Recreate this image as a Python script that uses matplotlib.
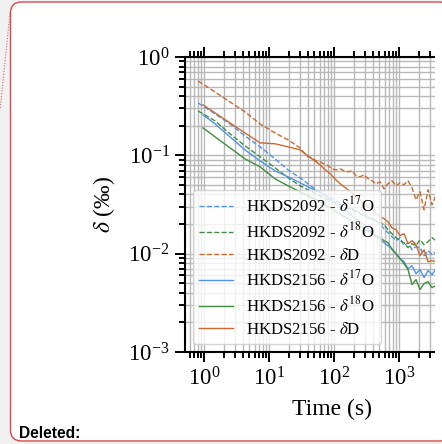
import matplotlib
matplotlib.use("Agg")
import matplotlib.pyplot as plt
from matplotlib.patches import FancyBboxPatch, Rectangle
from matplotlib.lines import Line2D
from matplotlib.transforms import IdentityTransform
from matplotlib.ticker import LogLocator, NullFormatter, FixedLocator

plt.rcParams['font.family'] = 'serif'
plt.rcParams['font.serif'] = ['Liberation Serif', 'DejaVu Serif']
plt.rcParams['mathtext.fontset'] = 'stix'

# ---------------- data ----------------
t_2092 = [0.81, 1.48, 2.51, 4.27, 7.27, 12.4, 19.6, 30.0, 34.5, 39.8, 45.9, 52.8, 60.9,
          70.2, 80.9, 93.2, 107, 124, 143, 164, 189, 218, 251, 290, 334, 384, 443, 510,
          588, 677, 780, 899, 1036, 1194, 1375, 1585, 1827, 2105, 2425, 2795, 3220, 3705, 4270]
t_2156 = [0.965, 1.48, 2.51, 4.27, 7.27, 12.4, 19.6, 30.0, 34.5, 39.8, 45.9, 52.8, 60.9,
          70.2, 80.9, 93.2, 107, 124, 143, 164, 189, 218, 251, 290, 334, 384, 443, 510,
          588, 677, 780, 899, 1036, 1194, 1375, 1585, 1827, 2105, 2425, 2795, 3220, 3705, 4270]

d17O_2092 = [0.341, 0.264, 0.2086, 0.1578, 0.122, 0.0921, 0.0712, 0.0591,
             0.0551, 0.0514, 0.0479, 0.0446, 0.0416, 0.0397, 0.0379, 0.0361, 0.0345, 0.0329,
             0.0314, 0.0300, 0.0286, 0.0274, 0.0261, 0.0249, 0.0238, 0.0227, 0.0216, 0.0201,
             0.0179, 0.01634, 0.01489, 0.01355, 0.01454, 0.01206, 0.01293, 0.01098, 0.01178,
             0.01151, 0.00954, 0.01073, 0.00977, 0.01048, 0.00932]
d18O_2092 = [0.283, 0.2237, 0.1653, 0.1249, 0.0966, 0.0747, 0.0591, 0.0490,
              0.0468, 0.0446, 0.0426, 0.0406, 0.0388, 0.0370, 0.0353, 0.0337, 0.0329, 0.0314,
              0.0300, 0.0286, 0.0280, 0.0267, 0.0255, 0.0243, 0.0232, 0.0227, 0.0216, 0.0206,
              0.0197, 0.01753, 0.01597, 0.01454, 0.01355, 0.01293, 0.0115, 0.01263, 0.01206,
              0.01387, 0.01234, 0.01324, 0.01454, 0.01355, 0.01489]
dD_2092 = [0.570, 0.441, 0.349, 0.277, 0.2086, 0.169, 0.1437, 0.119,
           0.106, 0.0966, 0.0944, 0.0879, 0.0859, 0.0820, 0.0782, 0.0729, 0.0712, 0.0729,
           0.0696, 0.0680, 0.0696, 0.0619, 0.0605, 0.0634, 0.0577, 0.0551, 0.0514, 0.0538,
           0.0457, 0.0514, 0.0551, 0.0490, 0.0526, 0.0502, 0.0551, 0.0468, 0.0353, 0.0426,
           0.0280, 0.0446, 0.0314, 0.0397, 0.0353]
d17O_2156 = [0.258, 0.2086, 0.154, 0.1137, 0.0879, 0.0696, 0.0605, 0.0526,
              0.0502, 0.0479, 0.0457, 0.0436, 0.0426, 0.0397, 0.0370, 0.0345, 0.0322, 0.0300,
              0.0280, 0.0261, 0.0243, 0.0227, 0.0211, 0.0197, 0.0179, 0.01634, 0.01489, 0.01387,
              0.01293, 0.01206, 0.01124, 0.0100, 0.0089, 0.00829, 0.00704, 0.00755, 0.00627,
              0.00688, 0.00571, 0.00672, 0.00612, 0.00704, 0.00657]
d18O_2156 = [0.190, 0.154, 0.1192, 0.0921, 0.0764, 0.0577, 0.0490, 0.0426,
              0.0406, 0.0388, 0.0370, 0.0353, 0.0337, 0.0322, 0.0300, 0.0286, 0.0267, 0.0255,
              0.0238, 0.0227, 0.0211, 0.0201, 0.0192, 0.0179, 0.01712, 0.01634, 0.01524, 0.01454,
              0.01355, 0.01293, 0.01098, 0.0100, 0.0089, 0.00791, 0.00688, 0.00485, 0.00545,
              0.00431, 0.00496, 0.0052, 0.00452, 0.00474, 0.00431]
dD_2156 = [0.326, 0.270, 0.2135, 0.169, 0.134, 0.131, 0.122, 0.1137,
           0.106, 0.0988, 0.0921, 0.0859, 0.0801, 0.0729, 0.0679, 0.0619, 0.0564, 0.0514,
           0.0479, 0.0446, 0.0416, 0.0379, 0.0353, 0.0322, 0.0300, 0.0280, 0.0255, 0.0238,
           0.0227, 0.0211, 0.0183, 0.01753, 0.01524, 0.01597, 0.01263, 0.01355, 0.01234,
           0.00954, 0.01098, 0.00829, 0.00849, 0.00829, 0.00755]

labels = [r'HKDS2092 - $\delta^{17}$O', r'HKDS2092 - $\delta^{18}$O', r'HKDS2092 - $\delta$D',
          r'HKDS2156 - $\delta^{17}$O', r'HKDS2156 - $\delta^{18}$O', r'HKDS2156 - $\delta$D']

# x tick positions that are shown (the rest of the chart is cut off by the page edge)
x_major_ticks = [1, 10, 100, 1000]

c_blue = '#4f93ea'
c_green = '#3f8f3f'
c_orange = '#cc6a30'

# ---------------- figure ----------------
W, H = 442, 444
fig = plt.figure(figsize=(W / 100, H / 100), dpi=100)
fig.patch.set_facecolor('#f1f1f1')

# page / comment box background
box = FancyBboxPatch((10.5, 3), 440, 439, boxstyle='round,pad=0,rounding_size=11',
                     transform=IdentityTransform(), facecolor='white',
                     edgecolor='#d9484c', linewidth=1.0, zorder=-2)
fig.add_artist(box)
fig.add_artist(Line2D([10, 0], [H - 13, H - 110], transform=IdentityTransform(),
                      color='#e06060', lw=0.8, linestyle=(0, (1, 1.5)), zorder=-1))

ax = fig.add_axes([185 / W, 92 / H, 294 / W, 295 / H])
ax.set_xscale('log')
ax.set_yscale('log')

ax.plot(t_2092, d17O_2092, color=c_blue, lw=1.0, ls='--', label=labels[0])
ax.plot(t_2092, d18O_2092, color=c_green, lw=1.0, ls='--', label=labels[1])
ax.plot(t_2092, dD_2092, color=c_orange, lw=1.0, ls='--', label=labels[2])
ax.plot(t_2156, d17O_2156, color=c_blue, lw=1.0, ls='-', label=labels[3])
ax.plot(t_2156, d18O_2156, color=c_green, lw=1.0, ls='-', label=labels[4])
ax.plot(t_2156, dD_2156, color=c_orange, lw=1.0, ls='-', label=labels[5])

ax.set_xlim(0.51, 17000)
ax.set_ylim(1e-3, 1e0)
ax.xaxis.set_major_locator(FixedLocator(x_major_ticks))
ax.yaxis.set_major_locator(LogLocator(base=10, numticks=20))
for axis in (ax.xaxis, ax.yaxis):
    axis.set_minor_locator(LogLocator(base=10, subs=[2, 3, 4, 5, 6, 7, 8, 9], numticks=20))
    axis.set_minor_formatter(NullFormatter())
ax.grid(True, which='both', color='#b8b8b8', lw=1.0)
ax.set_axisbelow(True)
for s in ax.spines.values():
    s.set_linewidth(1.5)
ax.tick_params(which='both', top=True, right=True, direction='out', labelsize=16.5, width=1.4)
ax.tick_params(which='major', length=7, pad=4)
ax.tick_params(which='minor', length=4)

ax.set_xlabel('Time (s)', fontsize=17, labelpad=6)
ax.set_ylabel(r'$\delta$ (‰)', fontsize=17, labelpad=8)

leg = ax.legend(loc='lower left', fontsize=12.1, framealpha=0.8, edgecolor='#cccccc',
                handlelength=2.0, labelspacing=0.36, borderaxespad=0.5, borderpad=0.35)

# cropping of the chart at the right (comment pane)
fig.add_artist(Rectangle((435, 10), 10, 424, transform=IdentityTransform(),
                         facecolor='white', edgecolor='none', zorder=5))

fig.text(19 / W, 3 / H, 'Deleted:', fontsize=11.2, fontweight='bold',
         family=['Liberation Sans', 'DejaVu Sans'], ha='left', va='bottom', zorder=6)

fig.savefig('out.png', dpi=100)
